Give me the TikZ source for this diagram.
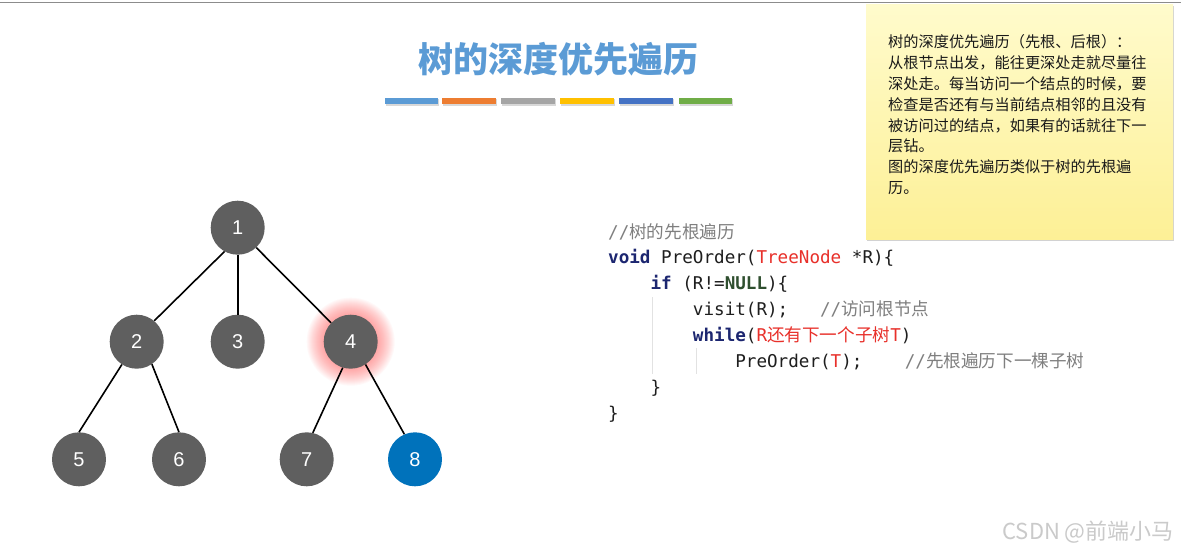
\documentclass[tikz,border=0pt]{standalone}
\usepackage{fontspec}
\usetikzlibrary{shadows}
\newfontfamily\cjk{Noto Sans CJK SC}
\newfontfamily\mono{DejaVu Sans Mono}
\newfontfamily\arial{Liberation Sans}
\definecolor{nodegray}{HTML}{5F5F5F}
\definecolor{nodeblue}{HTML}{0072BB}
\definecolor{glowred}{HTML}{FF5050}
\definecolor{titleblue}{HTML}{5B9BD5}
\definecolor{barA}{HTML}{5B9BD5}
\definecolor{barB}{HTML}{ED7D31}
\definecolor{barC}{HTML}{A5A5A5}
\definecolor{barD}{HTML}{FFC000}
\definecolor{barE}{HTML}{4472C4}
\definecolor{barF}{HTML}{70AD47}
\definecolor{notetop}{HTML}{FFFBCC}
\definecolor{notebot}{HTML}{FDF096}
\definecolor{kwblue}{HTML}{1C2670}
\definecolor{nullgreen}{HTML}{2F4F2F}
\definecolor{codered}{HTML}{E8302A}
\definecolor{cmtgray}{HTML}{7F7F7F}
\definecolor{codeblack}{HTML}{1E1E1E}
\definecolor{guide}{HTML}{E2E2E2}
\definecolor{wmgray}{HTML}{CACACA}
\definecolor{topgray}{HTML}{8C8C8C}
\newcommand\zh[1]{{\cjk #1}}
\newcommand\kw[1]{{\color{kwblue}\bfseries #1}}
\newcommand\cm[1]{{\color{cmtgray}#1}}
\newcommand\rd[1]{{\color{codered}#1}}
\begin{document}
\begin{tikzpicture}[x=1pt,y=-1pt,
  treenode/.style={circle, fill=nodegray, minimum size=54pt, inner sep=0pt,
    text=white, font=\arial\fontsize{20}{20}\selectfont},
  edge/.style={line width=1.6pt, black},
  bar/.style={drop shadow={shadow xshift=0.6pt, shadow yshift=-1.8pt, opacity=0.3}},
  codeline/.style={anchor=base west, inner sep=0pt, text=codeblack,
    font=\mono\fontsize{17.6}{20}\selectfont},
  noteline/.style={anchor=base west, inner sep=0pt, text=black!90,
    font=\cjk\fontsize{15.2}{16}\selectfont},
  indentguide/.style={guide, line width=1pt}]
\useasboundingbox (0,0) rectangle (1181,549);
\fill[white] (0,0) rectangle (1181,549);

% note box
\path[top color=notetop, bottom color=notebot,
  drop shadow={shadow xshift=0.8pt, shadow yshift=-1.6pt, opacity=0.35}]
  (866,4) rectangle (1173,239);
\draw[topgray, line width=1.6pt] (0,2.6) -- (1181,2.6);

% title
\node[font=\cjk\bfseries\fontsize{35}{35}\selectfont, text=titleblue, inner sep=0pt]
  (title) at (558,59.5) {树的深度优先遍历};

% colour bars
\path[bar, fill=barA] (385,97.5) rectangle (438,103.7);
\path[bar, fill=barB] (442,97.5) rectangle (496,103.7);
\path[bar, fill=barC] (501,97.5) rectangle (555,103.7);
\path[bar, fill=barD] (560,97.5) rectangle (614,103.7);
\path[bar, fill=barE] (619,97.5) rectangle (673,103.7);
\path[bar, fill=barF] (679,97.5) rectangle (732,103.7);

% glow around node 4
\foreach \r in {44,43,...,27} {
  \fill[glowred, opacity=0.035] (350.7,341.7) circle (\r pt);
}

% tree
\node[treenode] (t1) at (237.7,227.7) {1};
\node[treenode] (t2) at (136.7,341.7) {2};
\node[treenode] (t3) at (237.7,341.7) {3};
\node[treenode] (t4) at (350.7,341.7) {4};
\node[treenode] (t5) at (79,459.3) {5};
\node[treenode] (t6) at (179,459.3) {6};
\node[treenode] (t7) at (306.7,459.3) {7};
\node[treenode, fill=nodeblue] (t8) at (415,459.3) {8};

\draw[edge] (t1.241) -- (t2.50);
\draw[edge] (t1.south) -- (t3.north);
\draw[edge] (t1.313) -- (t4.136);
\draw[edge] (t2.237) -- (t5.north);
\draw[edge] (t2.304) -- (t6.north);
\draw[edge] (t4.253) -- (t7.77);
\draw[edge] (t4.303) -- (t8.113);

% code
\draw[indentguide] (652,297) -- (652,374);
\draw[indentguide] (696,348) -- (696,374);
\node[codeline] (c0) at (608,238) {\cm{//\zh{树的先根遍历}}};
\node[codeline] (c1) at (608,263.9) {\kw{void} PreOrder(\rd{TreeNode} *R)\{};
\node[codeline] (c2) at (608,289.8) {~~~~\kw{if} (R!={\color{nullgreen}\bfseries NULL})\{};
\node[codeline] (c3) at (608,315.7) {~~~~~~~~visit(R);~~~\cm{//\zh{访问根节点}}};
\node[codeline] (c4) at (608,341.6) {~~~~~~~~\kw{while}(\rd{R\zh{还有下一个子树}T})};
\node[codeline] (c5) at (608,367.5) {~~~~~~~~~~~~PreOrder(\rd{T});~~~~\cm{//\zh{先根遍历下一棵子树}}};
\node[codeline] (c6) at (608,393.4) {~~~~\}};
\node[codeline] (c7) at (608,419.3) {\}};

% note text
\node[noteline] (m0) at (888,47.4) {树的深度优先遍历（先根、后根）：};
\node[noteline] (m1) at (888,68.3) {从根节点出发，能往更深处走就尽量往};
\node[noteline] (m2) at (888,89.2) {深处走。每当访问一个结点的时候，要};
\node[noteline] (m3) at (888,110.1) {检查是否还有与当前结点相邻的且没有};
\node[noteline] (m4) at (888,131.0) {被访问过的结点，如果有的话就往下一};
\node[noteline] (m5) at (888,151.9) {层钻。};
\node[noteline] (m6) at (888,172.8) {图的深度优先遍历类似于树的先根遍};
\node[noteline] (m7) at (888,193.7) {历。};

% watermark
\node[anchor=east, inner sep=0pt, text=wmgray, font=\cjk\fontsize{22}{22}\selectfont]
  (wm) at (1174,531.7) {CSDN @前端小马};
\end{tikzpicture}
\end{document}
